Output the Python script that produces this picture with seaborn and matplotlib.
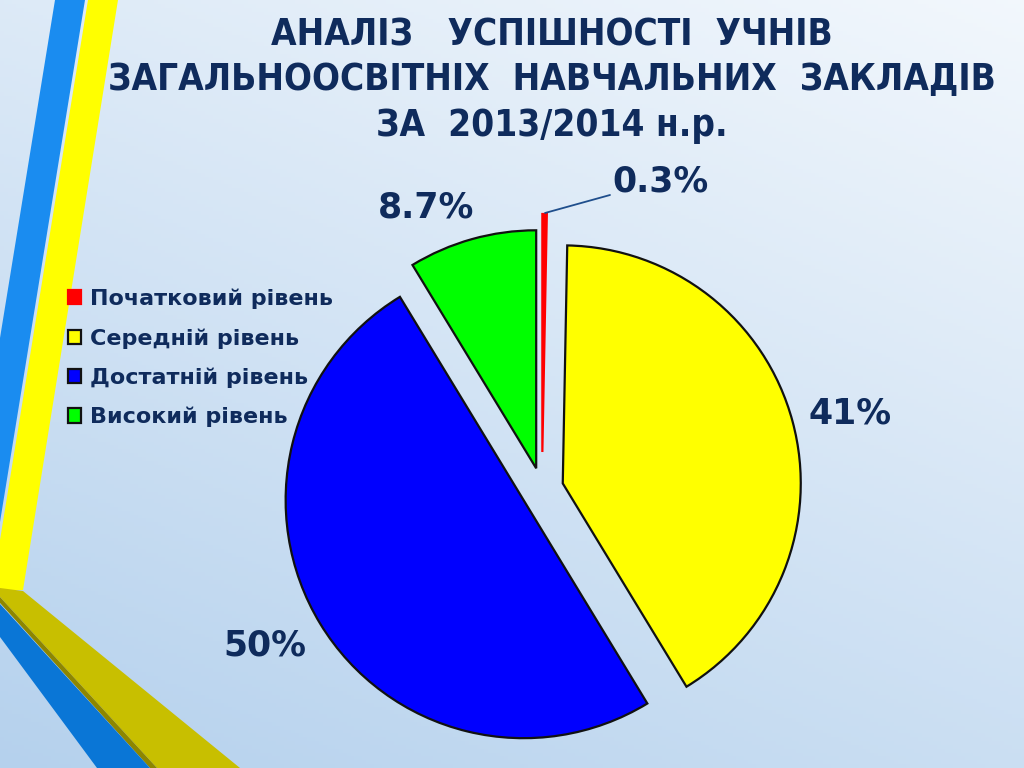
import numpy as np
import matplotlib
matplotlib.use("Agg")
import matplotlib.pyplot as plt
from matplotlib.patches import Polygon
import seaborn as sns

# data
levels = ["Початковий рівень", "Середній рівень", "Достатній рівень", "Високий рівень"]
shares = [0.3, 41, 50, 8.7]
share_labels = ["0.3%", "41%", "50%", "8.7%"]
title_lines = ["АНАЛІЗ   УСПІШНОСТІ  УЧНІВ",
               "ЗАГАЛЬНООСВІТНІХ  НАВЧАЛЬНИХ  ЗАКЛАДІВ",
               "ЗА  2013/2014 н.р."]

colors = ["#ff0000", "#ffff00", "#0000ff", "#00ff00"]
edges = ["#ff0000", "#111111", "#111111", "#111111"]
explode = [37, 21.5, 21.5, 21.5]  # pixels, pie takes them in data units
navy = "#0f2b5c"

sns.set_theme(style="white")

W, H = 1024, 768
fig = plt.figure(figsize=(10.24, 7.68), dpi=100)
ax = fig.add_axes([0, 0, 1, 1])

# background gradient, whiter to the top right, bluer to the bottom left
yy, xx = np.mgrid[0:1:200j, 0:1:260j]
t = np.clip(0.65 * (1 - yy) + 0.35 * (1 - xx), 0, 1)[..., None]
top = np.array([0.95, 0.97, 0.99])
bottom = np.array([0.71, 0.82, 0.93])
grad = top * (1 - t) + bottom * t
ax.imshow(grad, extent=(0, W, 0, H), origin="lower", aspect="auto", zorder=0)


def img(pts):
    # slide pixel coords (y down) -> axes coords (y up)
    return [(x, H - y) for x, y in pts]


# decorative stripes
ax.add_patch(Polygon(img([(55, 0), (85, 0), (0, 522), (0, 338)]), color="#1a8cf0", lw=0, zorder=1))
ax.add_patch(Polygon(img([(88, 0), (118, 0), (23, 590), (0, 590), (0, 540)]), color="#ffff00", lw=0, zorder=1))
ax.add_patch(Polygon(img([(0, 588), (23, 591), (240, 768), (157, 768), (0, 597)]), color="#c8bf00", lw=0, zorder=1))
ax.add_patch(Polygon(img([(0, 597), (157, 768), (150, 768), (0, 603)]), color="#8d8600", lw=0, zorder=1))
ax.add_patch(Polygon(img([(0, 604), (150, 768), (97, 768), (0, 637)]), color="#0a76d6", lw=0, zorder=1))

wedges, _ = ax.pie(shares, colors=colors, explode=explode, startangle=90, counterclock=False,
                   center=(542, H - 489), radius=238, frame=True,
                   wedgeprops=dict(linewidth=1.6, zorder=2))
for w, ec in zip(wedges, edges):
    w.set_edgecolor(ec)

label_pos = [(660, 182), (850, 413), (265, 646), (426, 208)]
for lab, (x, y) in zip(share_labels, label_pos):
    ax.text(x, H - y, lab, ha="center", va="center", fontsize=25, fontweight="bold",
            color=navy, family="DejaVu Sans", zorder=3)
ax.plot([545, 610], [H - 213, H - 195], color="#1f4e8c", lw=1.3, zorder=3)

leg = ax.legend(wedges, levels, loc="center left", bbox_to_anchor=(68 / W, 1 - 358 / H),
                frameon=False, prop=dict(family="DejaVu Sans", weight="bold", size=16),
                labelcolor=navy, handlelength=0.6, handleheight=0.6, handletextpad=0.4,
                labelspacing=0.85, borderpad=0, borderaxespad=0)

for line, yc in zip(title_lines, [35, 79, 126]):
    fig.text(552 / W, 1 - yc / H, line, ha="center", va="center", fontsize=26.5,
             family="DejaVu Sans", fontstretch="condensed", fontweight="bold", color=navy)

ax.set_xlim(0, W)
ax.set_ylim(0, H)
ax.set_aspect("equal")
ax.axis("off")

fig.savefig("out.png", dpi=100)
